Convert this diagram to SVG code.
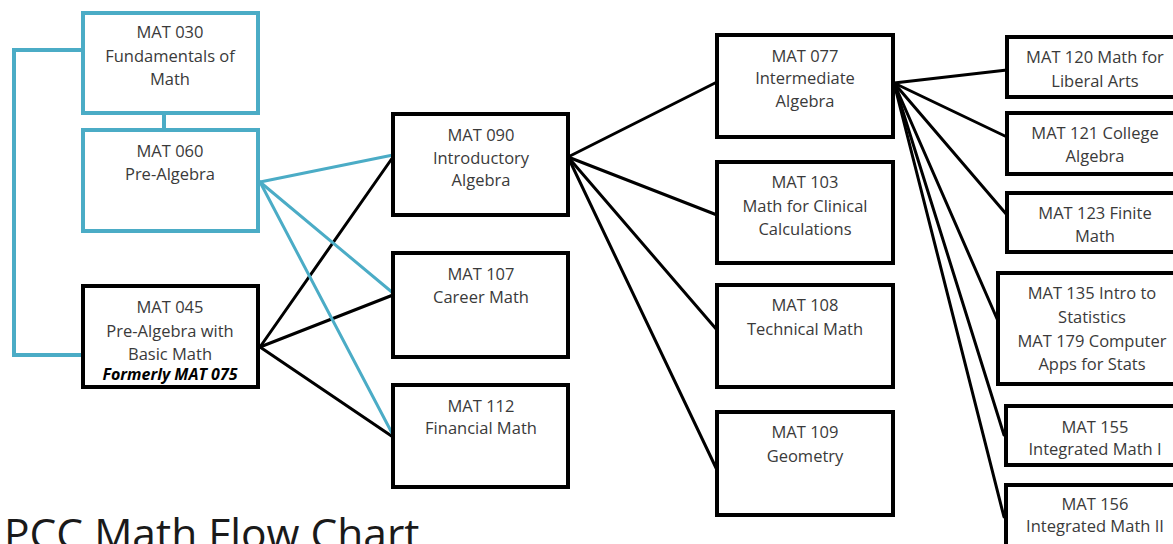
<svg xmlns="http://www.w3.org/2000/svg" width="1173" height="544" viewBox="0 0 1173 544">
<style>
.box{fill:#fff;stroke:#000;stroke-width:4}
.bbox{fill:#fff;stroke:#4BACC6;stroke-width:4}
.t{font-family:"Open Sans","Liberation Sans",sans-serif;font-size:16.5px;fill:#3a3a3a;text-anchor:middle}
.f{font-family:"Open Sans","Liberation Sans",sans-serif;font-size:16px;font-weight:bold;font-style:italic;fill:#000;text-anchor:middle}
.k{stroke:#000;stroke-width:3;fill:none;stroke-linecap:round}
.b{stroke:#4BACC6;stroke-width:3;fill:none;stroke-linecap:round}
.bb{stroke:#4BACC6;stroke-width:4;fill:none}
</style>
<rect width="1173" height="544" fill="#fff"/>
<g id="connectors">
<polyline class="bb" points="83,50 14,50 14,355 83,355"/>
<line class="bb" x1="164" y1="113" x2="164" y2="130"/>
<line class="k" x1="260" y1="347" x2="393" y2="157"/>
<line class="k" x1="260" y1="347" x2="393" y2="295"/>
<line class="k" x1="260" y1="347" x2="393" y2="437"/>
<line class="b" x1="260" y1="182" x2="393" y2="155"/>
<line class="b" x1="260" y1="182" x2="393" y2="293"/>
<line class="b" x1="260" y1="182" x2="393" y2="435"/>
<line class="k" x1="568" y1="157" x2="717" y2="82"/>
<line class="k" x1="568" y1="157" x2="717" y2="215"/>
<line class="k" x1="568" y1="157" x2="717" y2="330"/>
<line class="k" x1="568" y1="157" x2="717" y2="470"/>
<line class="k" x1="894" y1="83" x2="1007" y2="70"/>
<line class="k" x1="894" y1="83" x2="1007" y2="137"/>
<line class="k" x1="894" y1="83" x2="1007" y2="215"/>
<line class="k" x1="894" y1="83" x2="998" y2="321"/>
<line class="k" x1="894" y1="83" x2="1004" y2="435"/>
<line class="k" x1="894" y1="83" x2="1004" y2="517"/>
</g>
<g id="mat030"><rect class="bbox" x="83" y="13" width="175" height="100"/>
<text class="t" x="170" y="38">MAT 030</text><text class="t" x="170" y="62">Fundamentals of</text><text class="t" x="170" y="85">Math</text></g>
<g id="mat060"><rect class="bbox" x="83" y="130" width="175" height="101"/>
<text class="t" x="170" y="157">MAT 060</text><text class="t" x="170" y="180">Pre-Algebra</text></g>
<g id="mat045"><rect class="box" x="83" y="286" width="175" height="101"/>
<text class="t" x="170" y="313">MAT 045</text><text class="t" x="170" y="337">Pre-Algebra with</text><text class="t" x="170" y="360">Basic Math</text><text class="f" x="170" y="380">Formerly MAT 075</text></g>
<g id="mat090"><rect class="box" x="393" y="114" width="175" height="101"/>
<text class="t" x="481" y="141">MAT 090</text><text class="t" x="481" y="164">Introductory</text><text class="t" x="481" y="186">Algebra</text></g>
<g id="mat107"><rect class="box" x="393" y="253" width="175" height="104"/>
<text class="t" x="481" y="280">MAT 107</text><text class="t" x="481" y="303">Career Math</text></g>
<g id="mat112"><rect class="box" x="393" y="385" width="175" height="102"/>
<text class="t" x="481" y="412">MAT 112</text><text class="t" x="481" y="434">Financial Math</text></g>
<g id="mat077"><rect class="box" x="717" y="35" width="176" height="102"/>
<text class="t" x="805" y="62">MAT 077</text><text class="t" x="805" y="84">Intermediate</text><text class="t" x="805" y="107">Algebra</text></g>
<g id="mat103"><rect class="box" x="717" y="162" width="176" height="101"/>
<text class="t" x="805" y="188">MAT 103</text><text class="t" x="805" y="212">Math for Clinical</text><text class="t" x="805" y="235">Calculations</text></g>
<g id="mat108"><rect class="box" x="717" y="285" width="176" height="102"/>
<text class="t" x="805" y="311">MAT 108</text><text class="t" x="805" y="335">Technical Math</text></g>
<g id="mat109"><rect class="box" x="717" y="412" width="176" height="103"/>
<text class="t" x="805" y="438">MAT 109</text><text class="t" x="805" y="462">Geometry</text></g>
<g id="mat120"><rect class="box" x="1007" y="37" width="180" height="60"/>
<text class="t" x="1095" y="63">MAT 120 Math for</text><text class="t" x="1095" y="87">Liberal Arts</text></g>
<g id="mat121"><rect class="box" x="1007" y="113" width="180" height="61"/>
<text class="t" x="1095" y="139">MAT 121 College</text><text class="t" x="1095" y="162">Algebra</text></g>
<g id="mat123"><rect class="box" x="1007" y="193" width="180" height="59"/>
<text class="t" x="1095" y="219">MAT 123 Finite</text><text class="t" x="1095" y="242">Math</text></g>
<g id="mat135"><rect class="box" x="998" y="273" width="190" height="111"/>
<text class="t" x="1092" y="299">MAT 135 Intro to</text><text class="t" x="1092" y="323">Statistics</text><text class="t" x="1092" y="347">MAT 179 Computer</text><text class="t" x="1092" y="370">Apps for Stats</text></g>
<g id="mat155"><rect class="box" x="1006" y="406" width="180" height="59"/>
<text class="t" x="1095" y="433">MAT 155</text><text class="t" x="1095" y="455">Integrated Math I</text></g>
<g id="mat156"><rect class="box" x="1006" y="485" width="180" height="70"/>
<text class="t" x="1095" y="510">MAT 156</text><text class="t" x="1095" y="532">Integrated Math II</text></g>
<text x="4" y="549" style="font-family:'Open Sans','Liberation Sans',sans-serif;font-size:42.5px;fill:#1a1a1a">PCC Math Flow Chart</text>
</svg>
